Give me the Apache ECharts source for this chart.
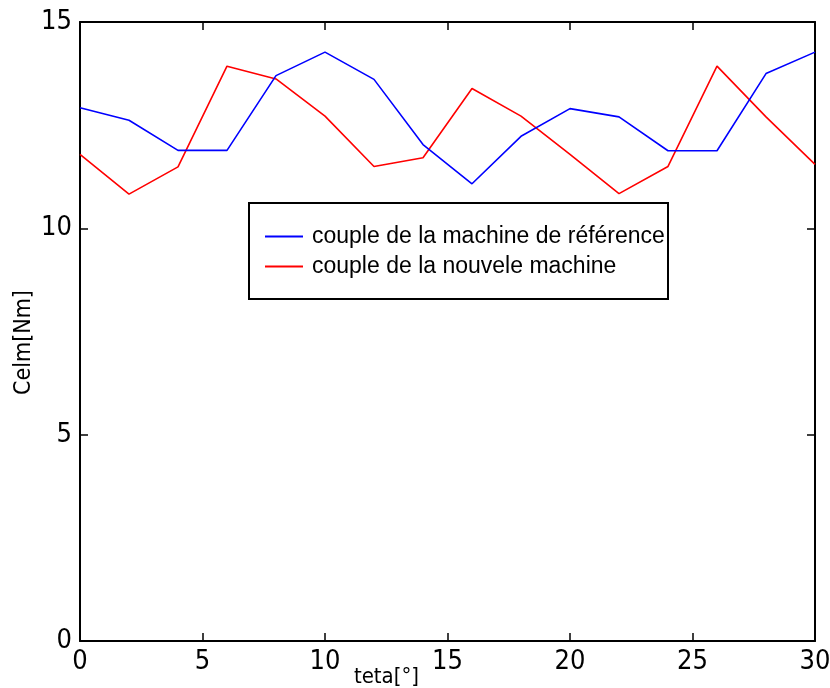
<!DOCTYPE html>
<html>
<head>
<meta charset="utf-8">
<script src="https://cdn.jsdelivr.net/npm/echarts@6/dist/echarts.min.js"></script>
<style>html,body{margin:0;padding:0;background:#fff;}#c{width:830px;height:688px;}</style>
</head>
<body>
<div id="c"></div>
<script>
const teta = [0, 2, 4, 6, 8, 10, 12, 14, 16, 18, 20, 22, 24, 26, 28, 30];
const coupleReference = [12.92, 12.62, 11.89, 11.89, 13.70, 14.27, 13.61, 12.03, 11.08, 12.23, 12.90, 12.70, 11.88, 11.88, 13.75, 14.27];
const coupleNouvelle = [11.79, 10.83, 11.49, 13.93, 13.62, 12.72, 11.50, 11.71, 13.39, 12.72, 11.79, 10.84, 11.50, 13.93, 12.70, 11.55];
const seriesNames = ['couple de la machine de référence', 'couple de la nouvele machine'];
const xTicks = [0, 5, 10, 15, 20, 25, 30];
const yTicks = [0, 5, 10, 15];

const tickFont = "'Liberation Sans Narrow', 'DejaVu Sans Condensed', 'Liberation Sans', sans-serif";
const mainFont = "'Liberation Sans', Arial, sans-serif";

const chart = echarts.init(document.getElementById('c'), null, {renderer: 'canvas'});
const axisLine = {show: true, onZero: false, lineStyle: {color: '#000', width: 2}};
const axisTick = {show: true, inside: true, length: 8, lineStyle: {color: '#000', width: 1.5}};

chart.setOption({
  animation: false,
  backgroundColor: '#fff',
  grid: {left: 80, right: 15, top: 22, bottom: 47, containLabel: false, outerBoundsMode: 'none'},
  xAxis: [
    {type: 'value', position: 'bottom', min: xTicks[0], max: xTicks[xTicks.length - 1], interval: 5,
     axisLine, axisTick, splitLine: {show: false},
     axisLabel: {color: '#000', fontSize: 27, fontFamily: tickFont, margin: 7},
     name: 'teta[°]', nameLocation: 'middle', nameGap: 25, nameMoveOverlap: false,
     nameTextStyle: {color: '#000', fontSize: 22, fontFamily: tickFont, padding: [0, 0, 0, -122]}},
    {type: 'value', position: 'top', min: xTicks[0], max: xTicks[xTicks.length - 1], interval: 5,
     axisLine, axisTick, axisLabel: {show: false}, splitLine: {show: false}}
  ],
  yAxis: [
    {type: 'value', position: 'left', min: yTicks[0], max: yTicks[yTicks.length - 1], interval: 5,
     axisLine, axisTick, splitLine: {show: false},
     axisLabel: {color: '#000', fontSize: 27, fontFamily: tickFont, margin: 8},
     name: 'Celm[Nm]', nameLocation: 'middle', nameGap: 44, nameMoveOverlap: false,
     nameTextStyle: {color: '#000', fontSize: 23, fontFamily: tickFont, padding: [0, 0, 0, -22]}},
    {type: 'value', position: 'right', min: yTicks[0], max: yTicks[yTicks.length - 1], interval: 5,
     axisLine, axisTick, axisLabel: {show: false}, splitLine: {show: false}}
  ],
  legend: {
    orient: 'vertical', left: 260, top: 220,
    itemWidth: 38, itemHeight: 2, itemGap: 7, icon: 'rect',
    textStyle: {color: '#000', fontSize: 23, fontFamily: mainFont, padding: [0, 0, 0, 4]},
    data: seriesNames
  },
  graphic: [{
    type: 'rect', left: 248, top: 202, z: 0,
    shape: {width: 419, height: 96},
    style: {fill: '#fff', stroke: '#000', lineWidth: 2}
  }],
  series: [
    {name: seriesNames[0], type: 'line', symbol: 'none', color: '#0000ff',
     lineStyle: {color: '#0000ff', width: 1.6}, z: 3,
     data: teta.map((t, i) => [t, coupleReference[i]])},
    {name: seriesNames[1], type: 'line', symbol: 'none', color: '#ff0000',
     lineStyle: {color: '#ff0000', width: 1.6}, z: 2,
     data: teta.map((t, i) => [t, coupleNouvelle[i]])}
  ]
});
</script>
</body>
</html>
